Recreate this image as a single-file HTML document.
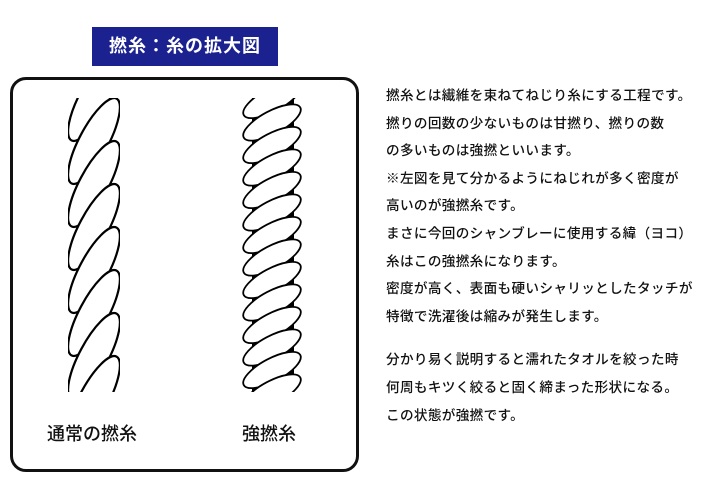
<!DOCTYPE html>
<html><head><meta charset="utf-8"><style>
body{margin:0;width:712px;height:487px;background:#fff;position:relative;overflow:hidden;font-family:"Liberation Sans","Noto Sans CJK JP",sans-serif;}
.title{position:absolute;left:92px;top:27px;width:186px;height:39px;background:#1c2190;color:#fff;font-size:18px;font-weight:700;text-align:center;line-height:39px;letter-spacing:1px;}
.box{position:absolute;left:10px;top:77px;width:343px;height:389px;border:3px solid #111;border-radius:16px;}
.lab{position:absolute;font-size:18px;font-weight:500;color:#111;}
.txt{position:absolute;left:386px;top:82px;font-size:13.6px;font-weight:500;color:#111;line-height:27.6px;letter-spacing:0.35px;white-space:nowrap;}
</style></head><body>
<div class="title">撚糸：糸の拡大図</div>
<div class="box"></div>
<svg width="712" height="487" style="position:absolute;left:0;top:0">
<defs>
<clipPath id="c1"><rect x="68" y="98" width="52" height="294"/></clipPath>
<clipPath id="c2"><rect x="240" y="98" width="65" height="294"/></clipPath>
<ellipse id="s1" cx="0" cy="0" rx="48" ry="14.5" fill="#fff" stroke="#000" stroke-width="2.2"/>
<ellipse id="s2" cx="0" cy="0" rx="32" ry="11.5" fill="#fff" stroke="#000" stroke-width="1.8"/>
</defs>
<g clip-path="url(#c1)">
<rect x="79" y="98" width="32" height="294" fill="#000"/>
<use href="#s1" transform="translate(94 98) rotate(-62)"/>
<use href="#s1" transform="translate(94 141) rotate(-62)"/>
<use href="#s1" transform="translate(94 184) rotate(-62)"/>
<use href="#s1" transform="translate(94 227) rotate(-62)"/>
<use href="#s1" transform="translate(94 270) rotate(-62)"/>
<use href="#s1" transform="translate(94 313) rotate(-62)"/>
<use href="#s1" transform="translate(94 356) rotate(-62)"/>
<use href="#s1" transform="translate(94 399) rotate(-62)"/>
</g>
<g clip-path="url(#c2)">
<rect x="252" y="98" width="42" height="294" fill="#000"/>
<use href="#s2" transform="translate(272 100) rotate(-28)"/>
<use href="#s2" transform="translate(272 122.5) rotate(-28)"/>
<use href="#s2" transform="translate(272 145) rotate(-28)"/>
<use href="#s2" transform="translate(272 167.5) rotate(-28)"/>
<use href="#s2" transform="translate(272 190) rotate(-28)"/>
<use href="#s2" transform="translate(272 212.5) rotate(-28)"/>
<use href="#s2" transform="translate(272 235) rotate(-28)"/>
<use href="#s2" transform="translate(272 257.5) rotate(-28)"/>
<use href="#s2" transform="translate(272 280) rotate(-28)"/>
<use href="#s2" transform="translate(272 302.5) rotate(-28)"/>
<use href="#s2" transform="translate(272 325) rotate(-28)"/>
<use href="#s2" transform="translate(272 347.5) rotate(-28)"/>
<use href="#s2" transform="translate(272 370) rotate(-28)"/>
<use href="#s2" transform="translate(272 392.5) rotate(-28)"/>
</g>
</svg>
<div class="lab" style="left:47px;top:420px">通常の撚糸</div>
<div class="lab" style="left:242px;top:420px">強撚糸</div>
<div class="txt">撚糸とは繊維を束ねてねじり糸にする工程です。<br>撚りの回数の少ないものは甘撚り、撚りの数<br>の多いものは強撚といいます。<br>※左図を見て分かるようにねじれが多く密度が<br>高いのが強撚糸です。<br>まさに今回のシャンブレーに使用する緯（ヨコ）<br>糸はこの強撚糸になります。<br>密度が高く、表面も硬いシャリッとしたタッチが<br>特徴で洗濯後は縮みが発生します。<br><div style="height:16px"></div>分かり易く説明すると濡れたタオルを絞った時<br>何周もキツく絞ると固く締まった形状になる。<br>この状態が強撚です。</div>
</body></html>
